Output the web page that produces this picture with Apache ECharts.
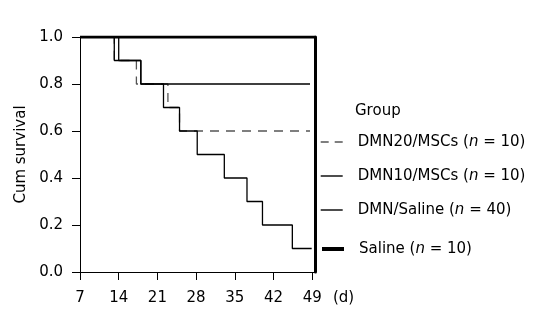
<!DOCTYPE html>
<html>
<head>
<meta charset="utf-8">
<script src="https://cdn.jsdelivr.net/npm/echarts@6/dist/echarts.min.js"></script>
<style>
  html, body { margin: 0; padding: 0; background: #fff; }
  #chart { width: 556px; height: 322px; }
</style>
</head>
<body>
<div id="chart"></div>
<script>
// Kaplan-Meier curves (days, cumulative survival)
const dayTicks = [7, 14, 21, 28, 35, 42, 49]
const survTicks = [0, 0.2, 0.4, 0.6, 0.8, 1.0]

const groupNames = [
  'DMN20/MSCs (n = 10)',
  'DMN10/MSCs (n = 10)',
  'DMN/Saline (n = 40)',
  'Saline (n = 10)'
]

const dmn20Days = [7, 13.2, 17.2, 22.9, 25, 48.6]
const dmn20Surv = [1.0, 0.9, 0.8, 0.7, 0.6, 0.6]

const dmn10Days = [7, 13.2, 18, 48.6]
const dmn10Surv = [1.0, 0.9, 0.8, 0.8]

const dmnSalineDays = [7, 14, 18, 22.1, 25, 28.2, 33.1, 37.2, 40, 45.4, 48.9]
const dmnSalineSurv = [1.0, 0.9, 0.8, 0.7, 0.6, 0.5, 0.4, 0.3, 0.2, 0.1, 0.1]

const salineDays = [7, 49.5]
const salineSurv = [1.0, 1.0]

const FONT = 'DejaVu Sans'

function pairs(xs, ys) {
  return xs.map((x, i) => [x, ys[i]])
}

// italic "n" in the legend labels
function legendLabel(name) {
  return name.replace('(n =', '({i|n} =')
}

const legendText = {
  color: '#000',
  fontFamily: FONT,
  fontSize: 15,
  lineHeight: 18,
  padding: [0, 0, 0, 10],
  rich: {
    i: { fontFamily: FONT, fontSize: 15, fontStyle: 'italic', color: '#000' }
  }
}

const chart = echarts.init(document.getElementById('chart'), null, { renderer: 'canvas' })

chart.setOption({
  backgroundColor: '#fff',
  animation: false,
  title: {
    text: 'Group',
    left: 355,
    top: 104,
    padding: 0,
    textStyle: { color: '#000', fontFamily: FONT, fontSize: 15, fontWeight: 'normal' }
  },
  legend: [
    {
      data: [
        { name: groupNames[0], lineStyle: { color: '#555', width: 1.4, type: [8, 6] } },
        { name: groupNames[1] },
        { name: groupNames[2] }
      ],
      orient: 'vertical',
      left: 320,
      top: 133,
      padding: 0,
      itemWidth: 22,
      itemHeight: 14,
      itemGap: 16,
      selectedMode: false,
      itemStyle: { opacity: 0 },
      lineStyle: { width: 1.4, color: '#000' },
      formatter: legendLabel,
      textStyle: legendText
    },
    {
      data: groupNames.slice(3),
      orient: 'vertical',
      left: 320,
      top: 240,
      padding: 0,
      itemWidth: 22,
      itemHeight: 14,
      selectedMode: false,
      itemStyle: { opacity: 0 },
      lineStyle: { width: 4, color: '#000' },
      formatter: legendLabel,
      textStyle: legendText
    }
  ],
  grid: { left: 80, right: 241, top: 37, bottom: 50 },
  xAxis: {
    type: 'value',
    min: 7,
    max: 49.5,
    interval: 7,
    splitLine: { show: false },
    axisLine: { lineStyle: { color: '#000', width: 1 } },
    axisTick: { length: 8, customValues: dayTicks, lineStyle: { color: '#000' } },
    axisLabel: {
      customValues: dayTicks,
      margin: 19,
      color: '#000',
      fontFamily: FONT,
      fontSize: 15
    }
  },
  yAxis: [
    {
      type: 'value',
      min: 0,
      max: 1,
      interval: 0.2,
      name: 'Cum survival',
      nameLocation: 'middle',
      nameGap: 51,
      nameTextStyle: { color: '#000', fontFamily: FONT, fontSize: 15 },
      splitLine: { show: false },
      axisLine: { show: true, lineStyle: { color: '#000', width: 1 } },
      axisTick: { length: 8, customValues: survTicks, lineStyle: { color: '#000' } },
      axisLabel: {
        customValues: survTicks,
        margin: 17,
        color: '#000',
        fontFamily: FONT,
        fontSize: 15,
        formatter: v => v.toFixed(1)
      }
    },
    {
      type: 'value',
      position: 'right',
      min: 0,
      max: 1,
      splitLine: { show: false },
      axisLine: { show: true, lineStyle: { color: '#000', width: 3 } },
      axisTick: { show: false },
      axisLabel: { show: false }
    }
  ],
  series: [
    {
      name: groupNames[0],
      type: 'line',
      step: 'end',
      symbol: 'none',
      color: '#555',
      lineStyle: { color: '#555', width: 1.3, type: [9, 7] },
      data: pairs(dmn20Days, dmn20Surv)
    },
    {
      name: groupNames[1],
      type: 'line',
      step: 'end',
      symbol: 'none',
      color: '#000',
      lineStyle: { color: '#000', width: 1.3 },
      data: pairs(dmn10Days, dmn10Surv)
    },
    {
      name: groupNames[2],
      type: 'line',
      step: 'end',
      symbol: 'none',
      color: '#000',
      lineStyle: { color: '#000', width: 1.3 },
      data: pairs(dmnSalineDays, dmnSalineSurv)
    },
    {
      name: groupNames[3],
      type: 'line',
      step: 'end',
      symbol: 'none',
      color: '#000',
      lineStyle: { color: '#000', width: 3 },
      data: pairs(salineDays, salineSurv)
    }
  ],
  graphic: [
    {
      type: 'text',
      style: {
        text: '(d)',
        x: 333,
        y: 298,
        verticalAlign: 'middle',
        font: '15px "DejaVu Sans"',
        fill: '#000'
      }
    }
  ]
})
</script>
</body>
</html>
